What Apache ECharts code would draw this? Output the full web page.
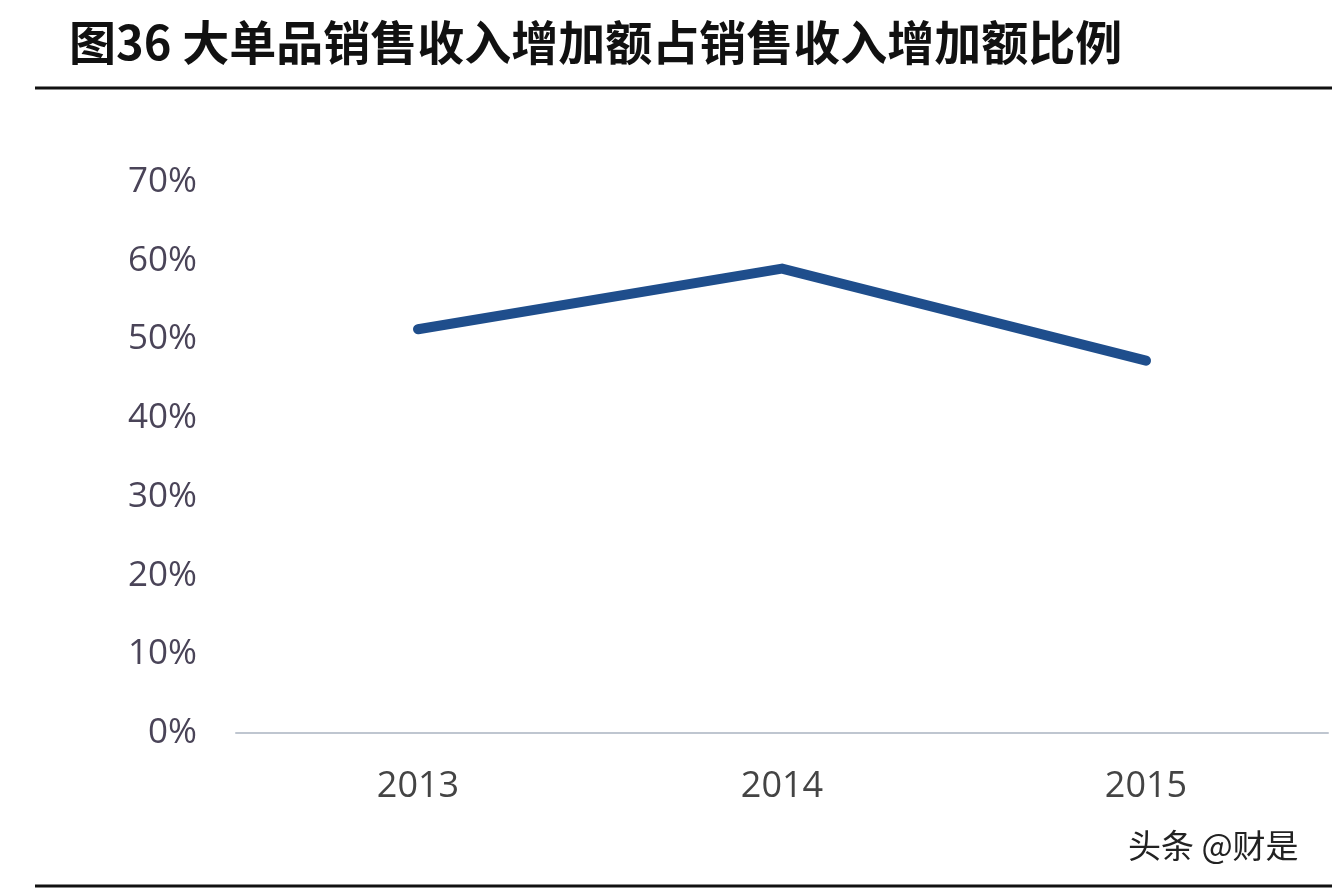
<!DOCTYPE html>
<html><head><meta charset="utf-8">
<script src="https://cdn.jsdelivr.net/npm/echarts@6/dist/echarts.min.js"></script>
<style>html,body{margin:0;padding:0;background:#fff}#c{width:1332px;height:892px}</style>
</head><body><div id="c"></div>
<script>
const categories = ['2013', '2014', '2015'];
const ratioValues = [51.3, 59.0, 47.3];
const yTicks = [0, 10, 20, 30, 40, 50, 60, 70];

const chart = echarts.init(document.getElementById('c'));
chart.setOption({
  animation: false,
  backgroundColor: '#fff',
  title: {
    text: '图36 大单品销售收入增加额占销售收入增加额比例',
    left: 64, top: 14,
    textStyle: { fontSize: 47, fontWeight: 'bold', color: '#111', fontFamily: 'Noto Sans CJK SC' }
  },
  graphic: [
    { type: 'line', shape: { x1: 35, y1: 88, x2: 1332, y2: 88 }, style: { stroke: '#111', lineWidth: 3 } },
    { type: 'line', shape: { x1: 35, y1: 886, x2: 1332, y2: 886 }, style: { stroke: '#111', lineWidth: 3 } },
    { type: 'text', left: 1128, top: 829, style: { text: '头条 @财是', fontSize: 33, fill: '#222', fontFamily: 'Noto Sans CJK SC' } }
  ],
  grid: { left: 236, right: 4, top: 182, bottom: 159 },
  xAxis: {
    type: 'category', data: categories, boundaryGap: true,
    axisLine: { lineStyle: { color: '#bfc6d0', width: 2 } },
    axisTick: { show: false },
    axisLabel: { fontSize: 36, color: '#444', margin: 36, fontFamily: 'Open Sans' }
  },
  yAxis: {
    type: 'value', min: yTicks[0], max: yTicks[yTicks.length - 1], interval: 10,
    axisLine: { show: false }, axisTick: { show: false }, splitLine: { show: false },
    axisLabel: { fontSize: 35, color: '#4a4458', margin: 39, formatter: '{value}%', fontFamily: 'Open Sans' }
  },
  series: [{
    type: 'line', data: ratioValues, symbol: 'none',
    lineStyle: { color: '#1f4e8c', width: 10, cap: 'round', join: 'round' }
  }]
});
</script></body></html>
